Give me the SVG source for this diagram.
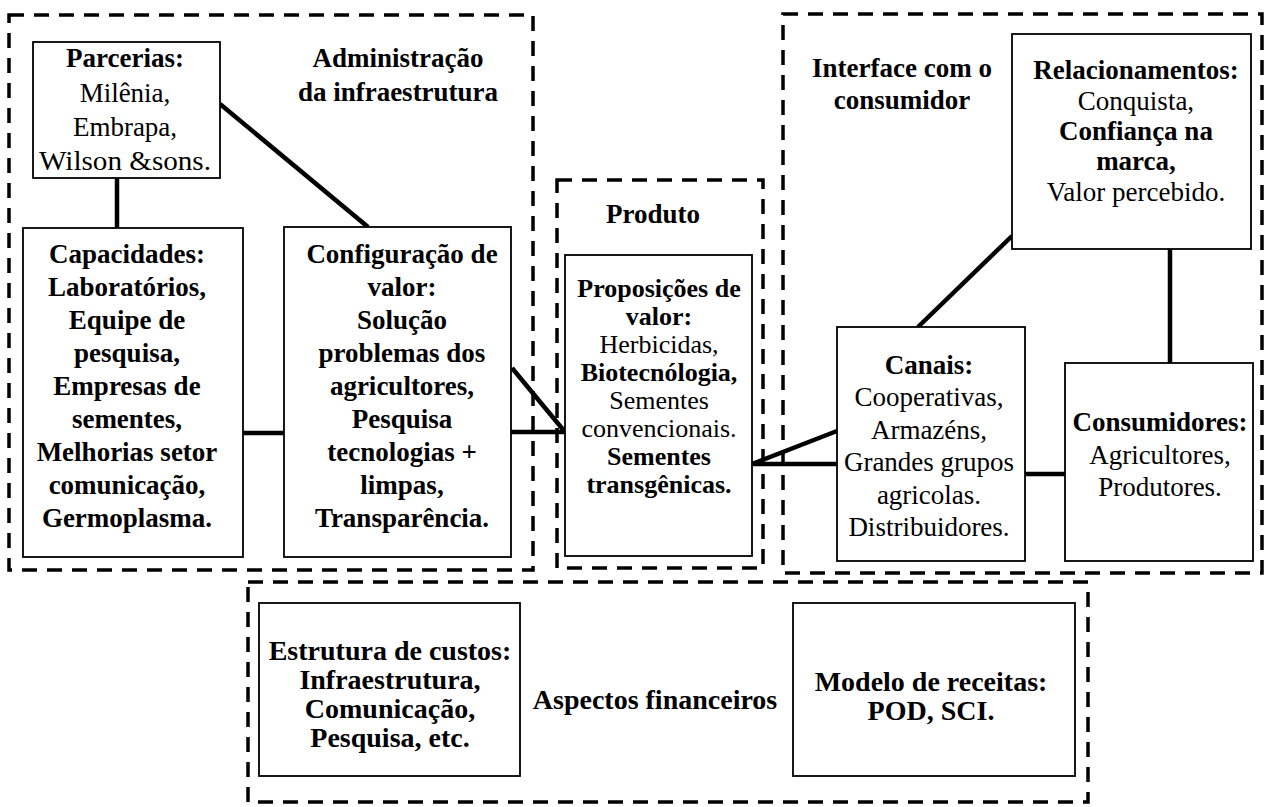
<svg xmlns="http://www.w3.org/2000/svg" width="1268" height="807" viewBox="0 0 1268 807">
<style>
text{font-family:"Liberation Serif","Times New Roman",serif;font-size:27px;text-anchor:middle;fill:#000}
.b{font-weight:bold}
.s26{font-size:26px}
.s28{font-size:28px}
.box{fill:#fff;stroke:#000;stroke-width:1.8}
.dash{fill:none;stroke:#000;stroke-width:3.5;stroke-dasharray:15 10}
.con line{stroke:#000;stroke-width:4.5}
</style>
<rect width="1268" height="807" fill="#fff"/>
<g id="groups">
<rect class="dash" x="9" y="15" width="524" height="555"/>
<rect class="dash" x="557" y="180" width="206" height="388"/>
<rect class="dash" x="783" y="14" width="479" height="559"/>
<rect class="dash" x="248" y="582" width="840" height="220"/>
</g>
<g class="con" id="connectors">
<line x1="117" y1="178" x2="117" y2="228"/>
<line x1="220" y1="104" x2="368" y2="227"/>
<line x1="243" y1="433" x2="284" y2="433"/>
<line x1="511" y1="432" x2="565" y2="432"/>
<line x1="512" y1="368" x2="565" y2="432"/>
<line x1="752" y1="464" x2="837" y2="464"/>
<line x1="752" y1="464" x2="837" y2="431"/>
<line x1="918" y1="327" x2="1012" y2="236"/>
<line x1="1170" y1="249" x2="1170" y2="363"/>
<line x1="1025" y1="474" x2="1065" y2="474"/>
</g>
<g id="admin-label">
<text class="b" x="398" y="67">Administração</text>
<text class="b" x="398" y="101">da infraestrutura</text>
</g>
<g id="parcerias">
<rect class="box" x="33" y="42" width="187" height="136"/>
<text class="b" x="125" y="67">Parcerias:</text>
<text x="125" y="102">Milênia,</text>
<text x="125" y="136">Embrapa,</text>
<text x="125" y="170" textLength="172" lengthAdjust="spacingAndGlyphs">Wilson &amp;sons.</text>
</g>
<g id="capacidades">
<rect class="box" x="23" y="228" width="220" height="329"/>
<text class="b" x="127" y="263">Capacidades:</text>
<text class="b" x="127" y="296">Laboratórios,</text>
<text class="b" x="127" y="329">Equipe de</text>
<text class="b" x="127" y="362">pesquisa,</text>
<text class="b" x="127" y="395">Empresas de</text>
<text class="b" x="127" y="428">sementes,</text>
<text class="b" x="127" y="461">Melhorias setor</text>
<text class="b" x="127" y="494">comunicação,</text>
<text class="b" x="127" y="527">Germoplasma.</text>
</g>
<g id="configuracao">
<rect class="box" x="284" y="227" width="227" height="330"/>
<text class="b" x="402" y="263">Configuração de</text>
<text class="b" x="402" y="296">valor:</text>
<text class="b" x="402" y="329">Solução</text>
<text class="b" x="402" y="362">problemas dos</text>
<text class="b" x="402" y="395">agricultores,</text>
<text class="b" x="402" y="428">Pesquisa</text>
<text class="b" x="402" y="461">tecnologias +</text>
<text class="b" x="402" y="494">limpas,</text>
<text class="b" x="402" y="527">Transparência.</text>
</g>
<g id="produto-label">
<text class="b" x="653" y="223">Produto</text>
</g>
<g id="proposicoes">
<rect class="box" x="565" y="255" width="187" height="301"/>
<text class="b s26" x="659" y="297">Proposições de</text>
<text class="b s26" x="659" y="325">valor:</text>
<text class="s26" x="659" y="353">Herbicidas,</text>
<text class="b s26" x="659" y="381">Biotecnólogia,</text>
<text class="s26" x="659" y="409">Sementes</text>
<text class="s26" x="659" y="437">convencionais.</text>
<text class="b s26" x="659" y="465">Sementes</text>
<text class="b s26" x="659" y="493">transgênicas.</text>
</g>
<g id="interface-label">
<text class="b" x="902" y="77">Interface com o</text>
<text class="b" x="902" y="109">consumidor</text>
</g>
<g id="relacionamentos">
<rect class="box" x="1012" y="34" width="239" height="215"/>
<text class="b" x="1136" y="79">Relacionamentos:</text>
<text x="1136" y="110">Conquista,</text>
<text class="b" x="1136" y="140">Confiança na</text>
<text class="b" x="1136" y="170">marca,</text>
<text x="1136" y="201">Valor percebido.</text>
</g>
<g id="canais">
<rect class="box" x="837" y="327" width="188" height="234"/>
<text class="b" x="929" y="374">Canais:</text>
<text x="929" y="406">Cooperativas,</text>
<text x="929" y="439">Armazéns,</text>
<text x="929" y="471">Grandes grupos</text>
<text x="929" y="504">agricolas.</text>
<text x="929" y="536">Distribuidores.</text>
</g>
<g id="consumidores">
<rect class="box" x="1065" y="363" width="188" height="198"/>
<text class="b" x="1160" y="431">Consumidores:</text>
<text x="1160" y="464">Agricultores,</text>
<text x="1160" y="496">Produtores.</text>
</g>
<g id="estrutura">
<rect class="box" x="259" y="603" width="261" height="173"/>
<text class="b s28" x="390" y="660">Estrutura de custos:</text>
<text class="b s28" x="390" y="689">Infraestrutura,</text>
<text class="b s28" x="390" y="718">Comunicação,</text>
<text class="b s28" x="390" y="747">Pesquisa, etc.</text>
</g>
<g id="financeiro-label">
<text class="b s28" x="655" y="709">Aspectos financeiros</text>
</g>
<g id="modelo">
<rect class="box" x="793" y="603" width="282" height="173"/>
<text class="b s28" x="931" y="691">Modelo de receitas:</text>
<text class="b s28" x="931" y="720">POD, SCI.</text>
</g>
</svg>
